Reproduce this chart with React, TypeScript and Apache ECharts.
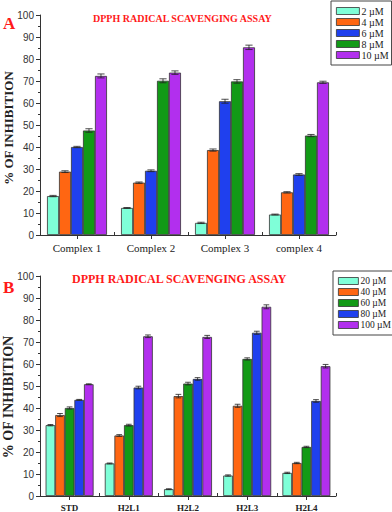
import React, { useEffect, useRef } from "react";
import * as echarts from "echarts";

const catsA = ["Complex 1", "Complex 2", "Complex 3", "complex 4"];
const namesA = ["2 µM", "4 µM", "6 µM", "8 µM", "10 µM"];
const colorsA = ["#7FFFD8", "#FF6612", "#1F40EE", "#129A16", "#B22FEE"];
const valsA = [
  [17.7, 12.3, 5.5, 9.3],
  [28.8, 23.8, 38.6, 19.4],
  [40.0, 29.2, 60.8, 27.5],
  [47.5, 70.1, 69.8, 45.2],
  [72.3, 73.8, 85.3, 69.4],
];
const errsA = [
  [0.3, 0.2, 0.3, 0.2],
  [0.4, 0.3, 0.5, 0.3],
  [0.3, 0.4, 0.9, 0.4],
  [0.8, 0.9, 0.8, 0.5],
  [0.9, 0.8, 1.0, 0.5],
];

const catsB = ["STD", "H2L1", "H2L2", "H2L3", "H2L4"];
const namesB = ["20 µM", "40 µM", "60 µM", "80 µM", "100 µM"];
const colorsB = ["#7FFFD8", "#FF6612", "#129A16", "#1F40EE", "#B22FEE"];
const valsB = [
  [32.2, 14.8, 3.1, 9.3, 10.5],
  [36.8, 27.5, 45.4, 41.0, 15.0],
  [40.0, 32.2, 51.1, 62.3, 22.3],
  [43.7, 49.3, 53.2, 74.2, 43.2],
  [50.8, 72.6, 72.3, 86.0, 59.0],
];
const errsB = [
  [0.3, 0.2, 0.2, 0.3, 0.3],
  [0.7, 0.4, 0.8, 0.7, 0.3],
  [0.5, 0.4, 0.6, 0.5, 0.3],
  [0.2, 0.6, 0.6, 0.7, 0.6],
  [0.2, 0.6, 0.7, 0.9, 0.8],
];

const GAP = 0.19;
const SERIF = "'Liberation Serif', 'Times New Roman', serif";
const SANS = "'Liberation Sans', Arial, sans-serif";

function errSeries(gi: number, si: number, n: number, vals: number[], errs: number[]) {
  return {
    type: "custom",
    name: "err" + gi + "_" + si,
    xAxisIndex: gi,
    yAxisIndex: gi,
    z: 10,
    silent: true,
    data: vals.map((v, k) => [k, v, errs[k]]),
    renderItem: (params: any, api: any) => {
      const k = api.value(0);
      const v = api.value(1);
      const e = api.value(2);
      const band = api.size([1, 0])[0];
      const w = (band * (1 - GAP)) / n;
      const c = api.coord([k, v]);
      const x = c[0] + (si - (n - 1) / 2) * w;
      const top = api.coord([k, v + e])[1];
      const bot = api.coord([k, v - e])[1];
      const cap = w * 0.3;
      const st = { stroke: "#222", lineWidth: 0.8 };
      return {
        type: "group",
        children: [
          { type: "line", shape: { x1: x, y1: top, x2: x, y2: bot }, style: st },
          { type: "line", shape: { x1: x - cap, y1: top, x2: x + cap, y2: top }, style: st },
          { type: "line", shape: { x1: x - cap, y1: bot, x2: x + cap, y2: bot }, style: st },
        ],
      };
    },
  };
}

function barSeries(gi: number, names: string[], colors: string[], vals: number[][]) {
  return names.map((nm, i) => ({
    type: "bar",
    name: nm,
    xAxisIndex: gi,
    yAxisIndex: gi,
    data: vals[i],
    barGap: "0%",
    barCategoryGap: GAP * 100 + "%",
    itemStyle: { color: colors[i], borderColor: "#333", borderWidth: 0.8 },
  }));
}

function yAxis(gi: number) {
  return {
    type: "value",
    gridIndex: gi,
    min: 0,
    max: 100,
    interval: 10,
    axisLine: { show: true, lineStyle: { color: "#333", width: 1 } },
    axisTick: { show: true, length: 4, lineStyle: { color: "#333" } },
    minorTick: { show: true, splitNumber: 2, length: 2, lineStyle: { color: "#333" } },
    splitLine: { show: false },
    axisLabel: { fontFamily: SANS, fontSize: 10, color: "#333", margin: 6 },
  };
}

function xAxis(gi: number, cats: string[], labelStyle: any) {
  return {
    type: "category",
    gridIndex: gi,
    data: cats,
    axisLine: { show: true, lineStyle: { color: "#333", width: 1 } },
    axisTick: { show: true, alignWithLabel: true, length: 4, lineStyle: { color: "#333" } },
    axisLabel: Object.assign({ fontFamily: SERIF, color: "#222", margin: 7 }, labelStyle),
  };
}

function boundaryAxis(gi: number, n: number) {
  return {
    type: "value",
    gridIndex: gi,
    min: 0,
    max: n,
    interval: 1,
    position: "bottom",
    axisLine: { show: false },
    axisTick: { show: true, inside: true, length: 3, lineStyle: { color: "#333" } },
    axisLabel: { show: false },
    splitLine: { show: false },
  };
}

function legend(names: string[], left: number, top: number, fontSize: number, itemWidth: number) {
  return {
    data: names,
    orient: "vertical",
    left,
    top,
    itemWidth,
    itemHeight: 7,
    itemGap: 1,
    padding: [5, 3, 5, 5],
    borderColor: "#444",
    borderWidth: 1,
    backgroundColor: "#fff",
    selectedMode: false,
    icon: "rect",
    itemStyle: { borderColor: "#333", borderWidth: 0.8 },
    textStyle: { fontFamily: SERIF, fontSize, color: "#222", padding: [0, 0, 0, -3] },
  };
}

export default function App() {
  const ref = useRef<HTMLDivElement>(null);
  useEffect(() => {
    document.body.style.margin = "0";
    const chart = echarts.init(ref.current!, null, { renderer: "svg" });
    const seriesA: any[] = barSeries(0, namesA, colorsA, valsA);
    const seriesB: any[] = barSeries(1, namesB, colorsB, valsB);
    const errA = namesA.map((_, i) => errSeries(0, i, namesA.length, valsA[i], errsA[i]));
    const errB = namesB.map((_, i) => errSeries(1, i, namesB.length, valsB[i], errsB[i]));
    chart.setOption({
      animation: false,
      backgroundColor: "#fff",
      grid: [
        { left: 40, right: 56, top: 15, bottom: 277 },
        { left: 40, right: 56, top: 276, bottom: 15 },
      ],
      xAxis: [
        xAxis(0, catsA, { fontSize: 11 }),
        xAxis(1, catsB, { fontSize: 9, fontWeight: "bold" }),
        boundaryAxis(0, catsA.length),
        boundaryAxis(1, catsB.length),
      ],
      yAxis: [yAxis(0), yAxis(1)],
      legend: [legend(namesA, 331, 1, 10, 23), legend(namesB, 333, 271, 9.5, 20)],
      graphic: [
        { type: "text", left: 93, top: 13, style: { text: "DPPH RADICAL SCAVENGING ASSAY", fill: "#FF1A1A", font: "bold 10px " + SERIF } },
        { type: "text", left: 72, top: 273, style: { text: "DPPH RADICAL SCAVENGING ASSAY", fill: "#FF1A1A", font: "bold 12px " + SERIF } },
        { type: "text", left: 3, top: 15, style: { text: "A", fill: "#FF1A1A", font: "bold 17px " + SERIF } },
        { type: "text", left: 3, top: 279, style: { text: "B", fill: "#FF1A1A", font: "bold 17px " + SERIF } },
        { type: "text", x: 8, y: 128, rotation: Math.PI / 2, style: { text: "% OF INHIBITION", fill: "#222", font: "bold 13px " + SERIF, align: "center", verticalAlign: "middle" } },
        { type: "text", x: 8, y: 397, rotation: Math.PI / 2, style: { text: "% OF INHIBITION", fill: "#222", font: "bold 14px " + SERIF, align: "center", verticalAlign: "middle" } },
      ],
      series: [...seriesA, ...errA, ...seriesB, ...errB],
    });
    return () => chart.dispose();
  }, []);
  return <div ref={ref} style={{ width: 392, height: 512 }} />;
}
